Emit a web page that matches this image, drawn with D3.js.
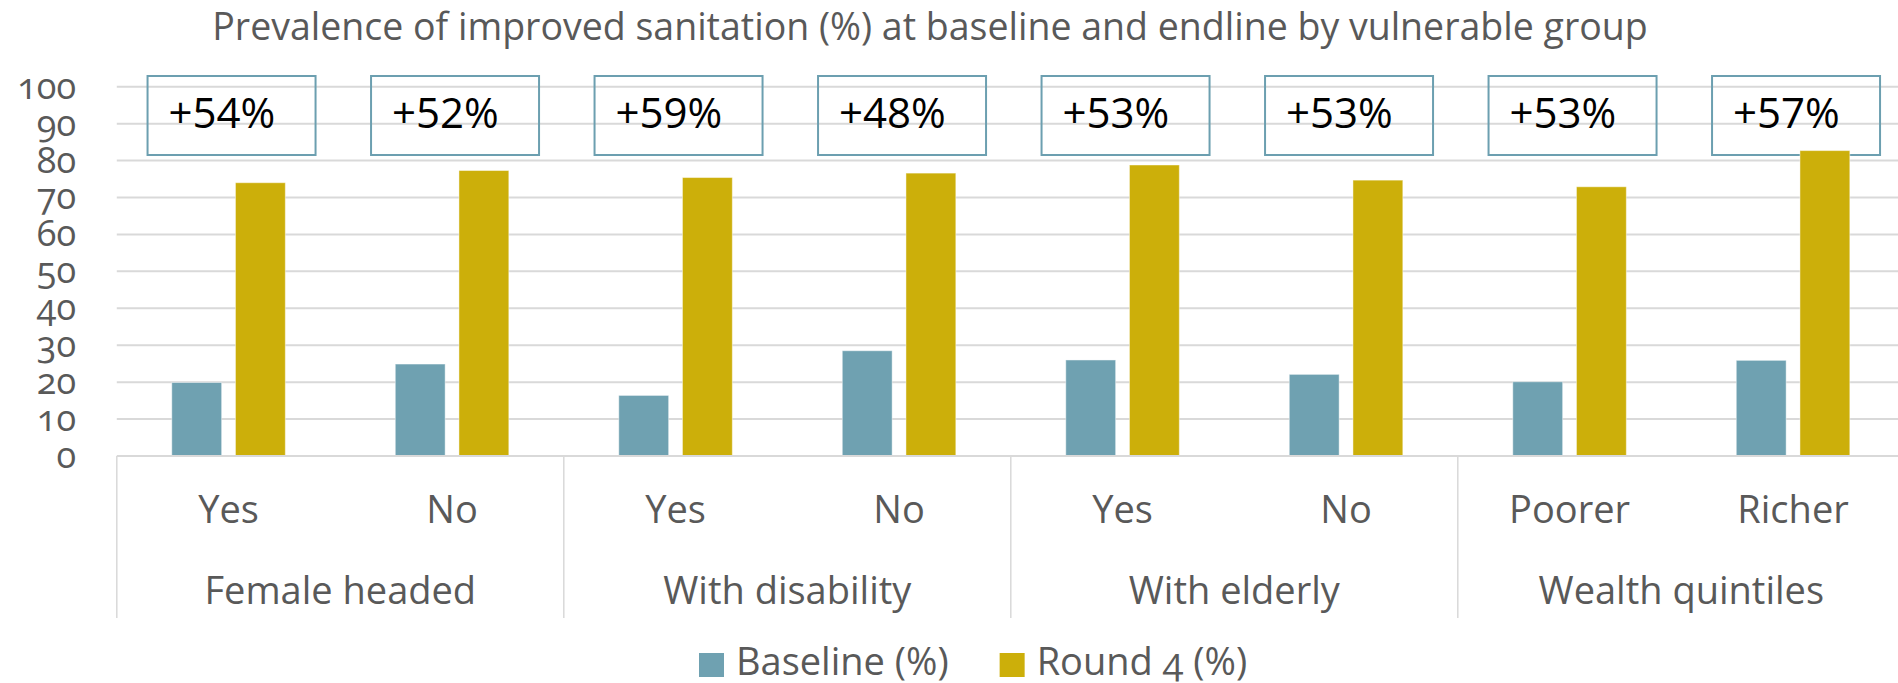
<!DOCTYPE html>
<html><head><meta charset="utf-8">
<script src="https://cdn.jsdelivr.net/npm/d3@7"></script>
<style>
html,body{margin:0;padding:0;background:#fff;overflow:hidden}
svg text{font-family:"Open Sans",sans-serif}
.num{font-variant-numeric:oldstyle-nums;font-feature-settings:"onum" 1}
</style></head><body>
<svg id="chart" width="1898" height="683"></svg>
<script>
// Sub-groups along the category axis and the vulnerable group each belongs to
const groups = ["Female headed", "With disability", "With elderly", "Wealth quintiles"];
const subLabels = ["Yes", "No", "Yes", "No", "Yes", "No", "Poorer", "Richer"];
const groupIndex = [0, 0, 1, 1, 2, 2, 3, 3];

// Prevalence of improved sanitation (%)
const baseline = [19.9, 24.9, 16.4, 28.5, 26.0, 22.1, 20.1, 25.9];
const round4 = [74.0, 77.3, 75.4, 76.6, 78.8, 74.7, 72.9, 82.7];

const seriesNames = ["Baseline (%)", "Round 4 (%)"];
const seriesColors = ["#6fa1b1", "#ccaf0a"];
const yTicks = [0, 10, 20, 30, 40, 50, 60, 70, 80, 90, 100];

const svg = d3.select("#chart");
const W = 1898, H = 683;
const plot = {left: 116.8, right: 1904.8, top: 86.7, bottom: 456};

const idx = d3.range(subLabels.length);
const x0 = d3.scaleBand().domain(idx).range([plot.left, plot.right])
  .paddingInner(0.492).paddingOuter(0.246);
const x1 = d3.scaleBand().domain([0, 1]).range([0, x0.bandwidth()]).paddingInner(0.217);
const xCat = d3.scaleBand().domain(idx).range([plot.left, plot.right]);
const y = d3.scaleLinear().domain([0, 100]).range([plot.bottom, plot.top]);

const grey = "#595959", gridCol = "#d9d9d9";

// Title
svg.append("text")
  .attr("x", 930).attr("y", 40)
  .attr("text-anchor", "middle")
  .attr("font-size", 37.5).attr("fill", grey)
  .text("Prevalence of improved sanitation (%) at baseline and endline by vulnerable group");

// Horizontal gridlines
svg.append("g").selectAll("line").data(yTicks.filter(t => t > 0)).join("line")
  .attr("x1", plot.left).attr("x2", W)
  .attr("y1", d => y(d)).attr("y2", d => y(d))
  .attr("stroke", gridCol).attr("stroke-width", 2);

// Y tick labels
svg.append("g").selectAll("text").data(yTicks).join("text")
  .attr("class", "num")
  .attr("x", 76).attr("y", d => y(d) + 12)
  .attr("text-anchor", "end")
  .attr("font-size", 36).attr("fill", grey)
  .text(d => d);

// Change boxes: percentage-point gain from baseline to round 4 (outline only, under the bars)
const fmtChange = d => "+" + Math.round(d) + "%";
const boxW = 168, boxH = 79, boxTop = 76;
const boxG = svg.append("g");
idx.forEach(i => {
  const cx = xCat(i) + xCat.bandwidth() / 2 + 3;
  boxG.append("rect")
    .attr("x", cx - boxW / 2).attr("y", boxTop)
    .attr("width", boxW).attr("height", boxH)
    .attr("fill", "none").attr("stroke", "#6c9fb0").attr("stroke-width", 2);
  boxG.append("text")
    .attr("x", cx - boxW / 2 + 21).attr("y", boxTop + 52)
    .attr("font-size", 42).attr("fill", "#000000")
    .text(fmtChange(round4[i] - baseline[i]));
});

// Bars
const vals = [baseline, round4];
const barG = svg.append("g");
idx.forEach(i => {
  [0, 1].forEach(s => {
    barG.append("rect")
      .attr("x", x0(i) + x1(s))
      .attr("y", y(vals[s][i]))
      .attr("width", x1.bandwidth())
      .attr("height", y(0) - y(vals[s][i]))
      .attr("fill", seriesColors[s])
      .attr("stroke", "#ffffff").attr("stroke-opacity", 0.45).attr("stroke-width", 1);
  });
});

// Category axis line and group dividers
svg.append("line")
  .attr("x1", plot.left).attr("x2", W)
  .attr("y1", y(0)).attr("y2", y(0))
  .attr("stroke", gridCol).attr("stroke-width", 2);
const groupStarts = groups.map((g, gi) => idx.find(i => groupIndex[i] === gi));
svg.append("g").selectAll("line").data(groupStarts).join("line")
  .attr("x1", d => xCat(d)).attr("x2", d => xCat(d))
  .attr("y1", y(0)).attr("y2", 618)
  .attr("stroke", gridCol).attr("stroke-width", 1.5);

// Sub-category labels
svg.append("g").selectAll("text").data(idx).join("text")
  .attr("x", i => xCat(i) + xCat.bandwidth() / 2).attr("y", 523)
  .attr("text-anchor", "middle").attr("font-size", 38).attr("fill", grey)
  .text(i => subLabels[i]);

// Group labels
svg.append("g").selectAll("text").data(groups).join("text")
  .attr("x", (g, gi) => {
    const members = idx.filter(i => groupIndex[i] === gi);
    return (xCat(members[0]) + xCat(members[members.length - 1]) + xCat.bandwidth()) / 2;
  })
  .attr("y", 604)
  .attr("text-anchor", "middle").attr("font-size", 38).attr("fill", grey)
  .text(g => g);

// Legend
const legend = svg.append("g");
let lx = 699;
seriesNames.forEach((name, s) => {
  legend.append("rect")
    .attr("x", lx).attr("y", 653).attr("width", 25).attr("height", 24)
    .attr("fill", seriesColors[s]);
  const t = legend.append("text")
    .attr("class", "num")
    .attr("x", lx + 37).attr("y", 675)
    .attr("font-size", 38).attr("fill", grey)
    .text(name);
  lx += 37 + t.node().getComputedTextLength() + 51;
});
</script>
</body></html>
